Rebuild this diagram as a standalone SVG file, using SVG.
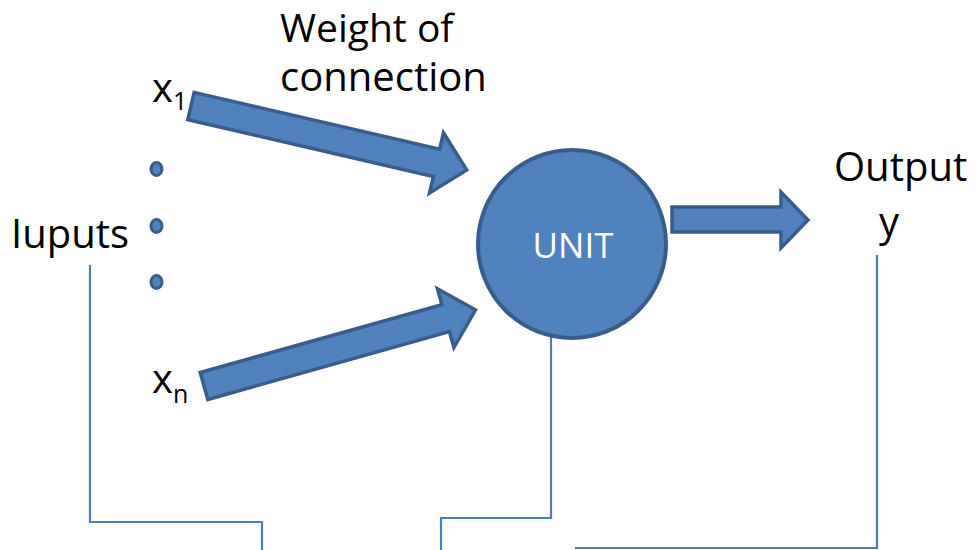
<svg xmlns="http://www.w3.org/2000/svg" width="976" height="550" viewBox="0 0 976 550">
<style>
.t{font-family:"Open Sans","Noto Sans",sans-serif;fill:#000;font-size:40px}
.sub{font-size:25px}
.arr{fill:#4f81bd;stroke:#385d8a;stroke-width:3.5;stroke-linejoin:miter}
.dot{fill:#4f81bd;stroke:#385d8a;stroke-width:3}
.ln{fill:none;stroke:#4a7ebb;stroke-width:2.2}
</style>
<rect width="976" height="550" fill="#fff"/>
<g id="connectors">
<polyline class="ln" points="90,265 90,522 262,522 262,550"/>
<polyline class="ln" points="551,312 551,518 441,518 441,550"/>
<polyline class="ln" points="877,255 877,548 575,548"/>
<polygon class="arr" transform="translate(191,106) rotate(13.05)" points="0,-14 252,-14 252,-31 283,0 252,31 252,14 0,14"/>
<polygon class="arr" transform="translate(204,386) rotate(-15.67)" points="0,-14 251,-14 251,-30.5 282,0 251,30.5 251,14 0,14"/>
<polygon class="arr" points="672,207 781,207 781,192 808,220 781,248 781,232 672,232"/>
</g>
<g id="unit">
<circle cx="572" cy="244" r="94" fill="#4f81bd" stroke="#385d8a" stroke-width="4"/>
<text class="t" x="573" y="258" text-anchor="middle" style="font-size:35px;fill:#fff">UNIT</text>
</g>
<g id="weight-label">
<text class="t" x="280" y="42" style="font-size:39px">Weight of</text>
<text class="t" x="280" y="91">connection</text>
</g>
<g id="x1"><text class="t" x="152" y="102">x<tspan class="sub" dy="8">1</tspan></text></g>
<g id="xn"><text class="t" x="152" y="393">x<tspan class="sub" dy="10">n</tspan></text></g>
<g id="inputs"><text class="t" x="11" y="248">Iuputs</text></g>
<g id="dots">
<ellipse class="dot" cx="156.5" cy="169" rx="5.5" ry="6.5"/>
<ellipse class="dot" cx="156.5" cy="226" rx="5.5" ry="6.5"/>
<ellipse class="dot" cx="156.5" cy="282" rx="5.5" ry="6.5"/>
</g>
<g id="output">
<text class="t" x="834" y="181">Output</text>
<text class="t" x="879" y="236">y</text>
</g>
</svg>
